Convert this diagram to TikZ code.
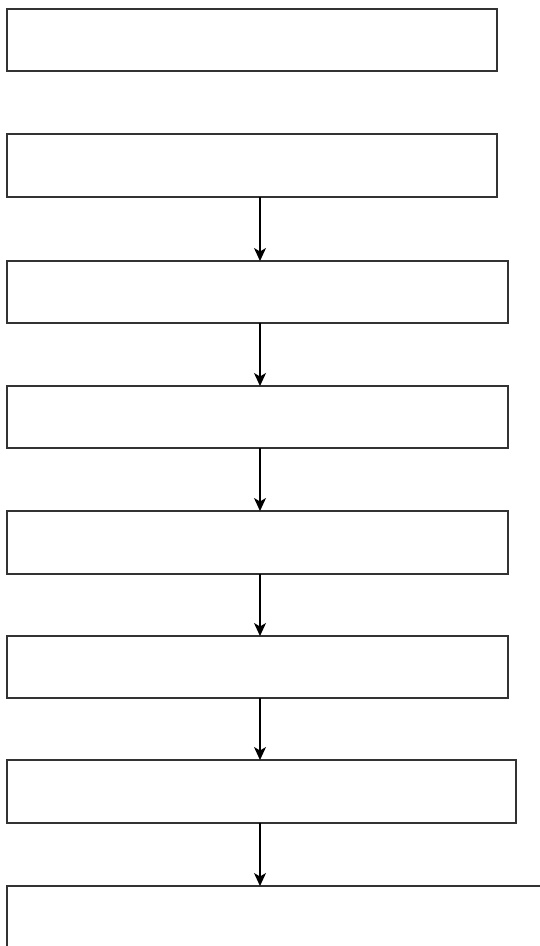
\documentclass[tikz,border=0pt]{standalone}
\usetikzlibrary{arrows.meta}
\begin{document}
\begin{tikzpicture}[x=1pt, y=-1pt,
  stagebox/.style={shape=rectangle, draw=black!80, line width=1.4pt, fill=white, inner sep=0pt, outer sep=0pt, minimum height=62pt},
  flowline/.style={arrows={-Stealth[length=13pt, width=12pt, inset=3.5pt]}, line width=1.2pt, draw=black}]
\clip (0,0) rectangle (540,946);
\fill[white] (0,0) rectangle (540,946);
\coordinate (axis) at (260,0);
\node[stagebox, minimum width=490pt] (box1) at (252,40) {};
\node[stagebox, minimum width=490pt, minimum height=63pt] (box2) at (252,165.5) {};
\node[stagebox, minimum width=501pt] (box3) at (257.5,292) {};
\node[stagebox, minimum width=501pt] (box4) at (257.5,417) {};
\node[stagebox, minimum width=501pt, minimum height=63pt] (box5) at (257.5,542.5) {};
\node[stagebox, minimum width=501pt] (box6) at (257.5,667) {};
\node[stagebox, minimum width=509pt, minimum height=63pt] (box7) at (261.5,791.5) {};
\node[stagebox, minimum width=560pt, minimum height=70pt] (box8) at (287,921) {};
\draw [flowline] (box2.south -| axis) -- (box3.north -| axis);
\draw [flowline] (box3.south -| axis) -- (box4.north -| axis);
\draw [flowline] (box4.south -| axis) -- (box5.north -| axis);
\draw [flowline] (box5.south -| axis) -- (box6.north -| axis);
\draw [flowline] (box6.south -| axis) -- (box7.north -| axis);
\draw [flowline] (box7.south -| axis) -- (box8.north -| axis);
\end{tikzpicture}
\end{document}
